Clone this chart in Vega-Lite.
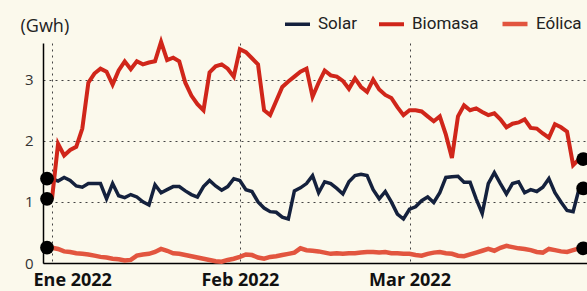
{
  "$schema": "https://vega.github.io/schema/vega-lite/v6.json",
  "width": 544,
  "height": 220,
  "autosize": {"type": "none"},
  "padding": {"left": 43, "top": 43, "right": 0, "bottom": 28},
  "background": "#fbf9ec",
  "config": {"view": {"stroke": null}, "font": "Open Sans"},
  "data": {"values": [
    {"d":"2022-01-01","Solar":1.38,"Biomasa":1.05,"Eólica":0.25},
    {"d":"2022-01-02","Solar":1.34,"Biomasa":1.95,"Eólica":0.23},
    {"d":"2022-01-03","Solar":1.40,"Biomasa":1.76,"Eólica":0.19},
    {"d":"2022-01-04","Solar":1.35,"Biomasa":1.85,"Eólica":0.18},
    {"d":"2022-01-05","Solar":1.26,"Biomasa":1.90,"Eólica":0.16},
    {"d":"2022-01-06","Solar":1.24,"Biomasa":2.20,"Eólica":0.15},
    {"d":"2022-01-07","Solar":1.30,"Biomasa":2.95,"Eólica":0.14},
    {"d":"2022-01-08","Solar":1.30,"Biomasa":3.10,"Eólica":0.12},
    {"d":"2022-01-09","Solar":1.30,"Biomasa":3.18,"Eólica":0.10},
    {"d":"2022-01-10","Solar":1.05,"Biomasa":3.13,"Eólica":0.09},
    {"d":"2022-01-11","Solar":1.30,"Biomasa":2.92,"Eólica":0.07},
    {"d":"2022-01-12","Solar":1.10,"Biomasa":3.15,"Eólica":0.06},
    {"d":"2022-01-13","Solar":1.07,"Biomasa":3.30,"Eólica":0.04},
    {"d":"2022-01-14","Solar":1.12,"Biomasa":3.17,"Eólica":0.05},
    {"d":"2022-01-15","Solar":1.08,"Biomasa":3.30,"Eólica":0.12},
    {"d":"2022-01-16","Solar":1.00,"Biomasa":3.25,"Eólica":0.14},
    {"d":"2022-01-17","Solar":0.95,"Biomasa":3.28,"Eólica":0.15},
    {"d":"2022-01-18","Solar":1.28,"Biomasa":3.30,"Eólica":0.18},
    {"d":"2022-01-19","Solar":1.15,"Biomasa":3.62,"Eólica":0.23},
    {"d":"2022-01-20","Solar":1.20,"Biomasa":3.32,"Eólica":0.20},
    {"d":"2022-01-21","Solar":1.25,"Biomasa":3.36,"Eólica":0.16},
    {"d":"2022-01-22","Solar":1.25,"Biomasa":3.30,"Eólica":0.15},
    {"d":"2022-01-23","Solar":1.18,"Biomasa":2.95,"Eólica":0.13},
    {"d":"2022-01-24","Solar":1.12,"Biomasa":2.74,"Eólica":0.11},
    {"d":"2022-01-25","Solar":1.08,"Biomasa":2.60,"Eólica":0.09},
    {"d":"2022-01-26","Solar":1.25,"Biomasa":2.50,"Eólica":0.07},
    {"d":"2022-01-27","Solar":1.35,"Biomasa":3.12,"Eólica":0.05},
    {"d":"2022-01-28","Solar":1.26,"Biomasa":3.22,"Eólica":0.03},
    {"d":"2022-01-29","Solar":1.19,"Biomasa":3.25,"Eólica":0.02},
    {"d":"2022-01-30","Solar":1.25,"Biomasa":3.18,"Eólica":0.05},
    {"d":"2022-01-31","Solar":1.38,"Biomasa":3.05,"Eólica":0.07},
    {"d":"2022-02-01","Solar":1.35,"Biomasa":3.50,"Eólica":0.10},
    {"d":"2022-02-02","Solar":1.20,"Biomasa":3.45,"Eólica":0.14},
    {"d":"2022-02-03","Solar":1.17,"Biomasa":3.35,"Eólica":0.13},
    {"d":"2022-02-04","Solar":1.00,"Biomasa":3.25,"Eólica":0.09},
    {"d":"2022-02-05","Solar":0.90,"Biomasa":2.50,"Eólica":0.07},
    {"d":"2022-02-06","Solar":0.84,"Biomasa":2.42,"Eólica":0.10},
    {"d":"2022-02-07","Solar":0.83,"Biomasa":2.65,"Eólica":0.11},
    {"d":"2022-02-08","Solar":0.75,"Biomasa":2.88,"Eólica":0.13},
    {"d":"2022-02-09","Solar":0.72,"Biomasa":2.97,"Eólica":0.15},
    {"d":"2022-02-10","Solar":1.18,"Biomasa":3.05,"Eólica":0.17},
    {"d":"2022-02-11","Solar":1.23,"Biomasa":3.13,"Eólica":0.24},
    {"d":"2022-02-12","Solar":1.30,"Biomasa":3.18,"Eólica":0.21},
    {"d":"2022-02-13","Solar":1.43,"Biomasa":2.72,"Eólica":0.20},
    {"d":"2022-02-14","Solar":1.15,"Biomasa":2.95,"Eólica":0.19},
    {"d":"2022-02-15","Solar":1.33,"Biomasa":3.15,"Eólica":0.17},
    {"d":"2022-02-16","Solar":1.30,"Biomasa":3.07,"Eólica":0.15},
    {"d":"2022-02-17","Solar":1.22,"Biomasa":3.05,"Eólica":0.16},
    {"d":"2022-02-18","Solar":1.13,"Biomasa":2.98,"Eólica":0.15},
    {"d":"2022-02-19","Solar":1.33,"Biomasa":2.85,"Eólica":0.16},
    {"d":"2022-02-20","Solar":1.43,"Biomasa":3.02,"Eólica":0.16},
    {"d":"2022-02-21","Solar":1.45,"Biomasa":2.88,"Eólica":0.17},
    {"d":"2022-02-22","Solar":1.43,"Biomasa":2.80,"Eólica":0.18},
    {"d":"2022-02-23","Solar":1.20,"Biomasa":3.00,"Eólica":0.18},
    {"d":"2022-02-24","Solar":1.05,"Biomasa":2.84,"Eólica":0.17},
    {"d":"2022-02-25","Solar":1.17,"Biomasa":2.75,"Eólica":0.18},
    {"d":"2022-02-26","Solar":1.00,"Biomasa":2.70,"Eólica":0.16},
    {"d":"2022-02-27","Solar":0.80,"Biomasa":2.55,"Eólica":0.16},
    {"d":"2022-02-28","Solar":0.72,"Biomasa":2.42,"Eólica":0.15},
    {"d":"2022-03-01","Solar":0.88,"Biomasa":2.50,"Eólica":0.15},
    {"d":"2022-03-02","Solar":0.92,"Biomasa":2.50,"Eólica":0.13},
    {"d":"2022-03-03","Solar":1.02,"Biomasa":2.48,"Eólica":0.12},
    {"d":"2022-03-04","Solar":1.08,"Biomasa":2.40,"Eólica":0.15},
    {"d":"2022-03-05","Solar":0.99,"Biomasa":2.32,"Eólica":0.17},
    {"d":"2022-03-06","Solar":1.15,"Biomasa":2.40,"Eólica":0.18},
    {"d":"2022-03-07","Solar":1.40,"Biomasa":2.10,"Eólica":0.16},
    {"d":"2022-03-08","Solar":1.41,"Biomasa":1.72,"Eólica":0.15},
    {"d":"2022-03-09","Solar":1.42,"Biomasa":2.40,"Eólica":0.12},
    {"d":"2022-03-10","Solar":1.32,"Biomasa":2.58,"Eólica":0.11},
    {"d":"2022-03-11","Solar":1.32,"Biomasa":2.50,"Eólica":0.14},
    {"d":"2022-03-12","Solar":1.05,"Biomasa":2.53,"Eólica":0.17},
    {"d":"2022-03-13","Solar":0.81,"Biomasa":2.47,"Eólica":0.20},
    {"d":"2022-03-14","Solar":1.30,"Biomasa":2.42,"Eólica":0.23},
    {"d":"2022-03-15","Solar":1.48,"Biomasa":2.45,"Eólica":0.20},
    {"d":"2022-03-16","Solar":1.30,"Biomasa":2.35,"Eólica":0.25},
    {"d":"2022-03-17","Solar":1.13,"Biomasa":2.22,"Eólica":0.28},
    {"d":"2022-03-18","Solar":1.30,"Biomasa":2.28,"Eólica":0.26},
    {"d":"2022-03-19","Solar":1.33,"Biomasa":2.30,"Eólica":0.24},
    {"d":"2022-03-20","Solar":1.15,"Biomasa":2.35,"Eólica":0.23},
    {"d":"2022-03-21","Solar":1.20,"Biomasa":2.21,"Eólica":0.21},
    {"d":"2022-03-22","Solar":1.17,"Biomasa":2.20,"Eólica":0.18},
    {"d":"2022-03-23","Solar":1.24,"Biomasa":2.12,"Eólica":0.17},
    {"d":"2022-03-24","Solar":1.38,"Biomasa":2.05,"Eólica":0.23},
    {"d":"2022-03-25","Solar":1.15,"Biomasa":2.27,"Eólica":0.21},
    {"d":"2022-03-26","Solar":1.00,"Biomasa":2.22,"Eólica":0.19},
    {"d":"2022-03-27","Solar":0.86,"Biomasa":2.15,"Eólica":0.18},
    {"d":"2022-03-28","Solar":0.84,"Biomasa":1.60,"Eólica":0.21},
    {"d":"2022-03-29","Solar":1.22,"Biomasa":1.70,"Eólica":0.24}
  ]},
  "transform": [{"fold": ["Solar", "Biomasa", "Eólica"], "as": ["serie", "v"]}],
  "encoding": {
    "x": {
      "field": "d", "type": "temporal",
      "scale": {"type": "utc", "domain": [
        {"year": 2021, "month": 12, "date": 30, "hours": 12, "minutes": 20, "utc": true},
        {"year": 2022, "month": 3, "date": 30, "hours": 7, "utc": true}
      ]},
      "axis": {
        "values": [
          {"year": 2022, "month": 1, "date": 1, "utc": true},
          {"year": 2022, "month": 2, "date": 1, "utc": true},
          {"year": 2022, "month": 3, "date": 1, "utc": true}
        ],
        "labelExpr": "(utcmonth(datum.value)==0 ? 'Ene' : utcmonth(datum.value)==1 ? 'Feb' : 'Mar') + ' 2022'",
        "title": null,
        "grid": true, "gridDash": [2, 4], "gridColor": "#444", "gridWidth": 1,
        "ticks": false,
        "domainColor": "#000", "domainWidth": 1.5,
        "labelFont": "Open Sans", "labelFontWeight": "bold", "labelFontSize": 18, "labelColor": "#111",
        "labelPadding": 8, "labelFlush": 12, "labelFlushOffset": 19, "labelOverlap": false, "labelBaseline": "top"
      }
    },
    "y": {
      "field": "v", "type": "quantitative",
      "scale": {"domain": [0, 3.6], "nice": false, "zero": true},
      "axis": {
        "values": [0, 1, 2, 3],
        "title": "(Gwh)", "titleAngle": 0, "titleAlign": "left", "titleBaseline": "alphabetic",
        "titleX": -23, "titleY": -12, "titleFontSize": 18, "titleFontWeight": "normal", "titleColor": "#222", "titleFont": "Open Sans",
        "ticks": false, "domainColor": "#000", "domainWidth": 1.5,
        "labelFont": "Open Sans", "labelFontSize": 15, "labelColor": "#333", "labelPadding": 10,
        "grid": true, "gridDash": [2, 4], "gridColor": "#444", "gridWidth": 1
      }
    },
    "color": {
      "field": "serie", "type": "nominal",
      "scale": {"domain": ["Solar", "Biomasa", "Eólica"], "range": ["#14213d", "#d0261a", "#e2553f"]},
      "legend": {
        "title": null, "orient": "none", "legendX": 240, "legendY": -34, "direction": "horizontal",
        "symbolType": "stroke", "symbolStrokeWidth": 5, "symbolSize": 625,
        "labelFont": "Roboto", "labelFontSize": 17, "labelColor": "#222", "labelOffset": 6,
        "columnPadding": 14, "padding": 0
      }
    }
  },
  "layer": [
    {
      "mark": {"type": "line", "clip": false},
      "encoding": {
        "strokeWidth": {"field": "serie", "type": "nominal", "scale": {"domain": ["Solar", "Biomasa", "Eólica"], "range": [3.5, 4.5, 2.5]}, "legend": null}
      }
    },
    {
      "transform": [{"filter": "time(datum.d) == time('2022-01-01')"}],
      "mark": {"type": "circle", "size": 190, "opacity": 1, "xOffset": -5, "clip": false},
      "encoding": {"color": {"value": "#000"}}
    },
    {
      "transform": [{"filter": "time(datum.d) == time('2022-03-29')"}],
      "mark": {"type": "circle", "size": 190, "opacity": 1, "xOffset": 4, "clip": false},
      "encoding": {"color": {"value": "#000"}}
    }
  ]
}
